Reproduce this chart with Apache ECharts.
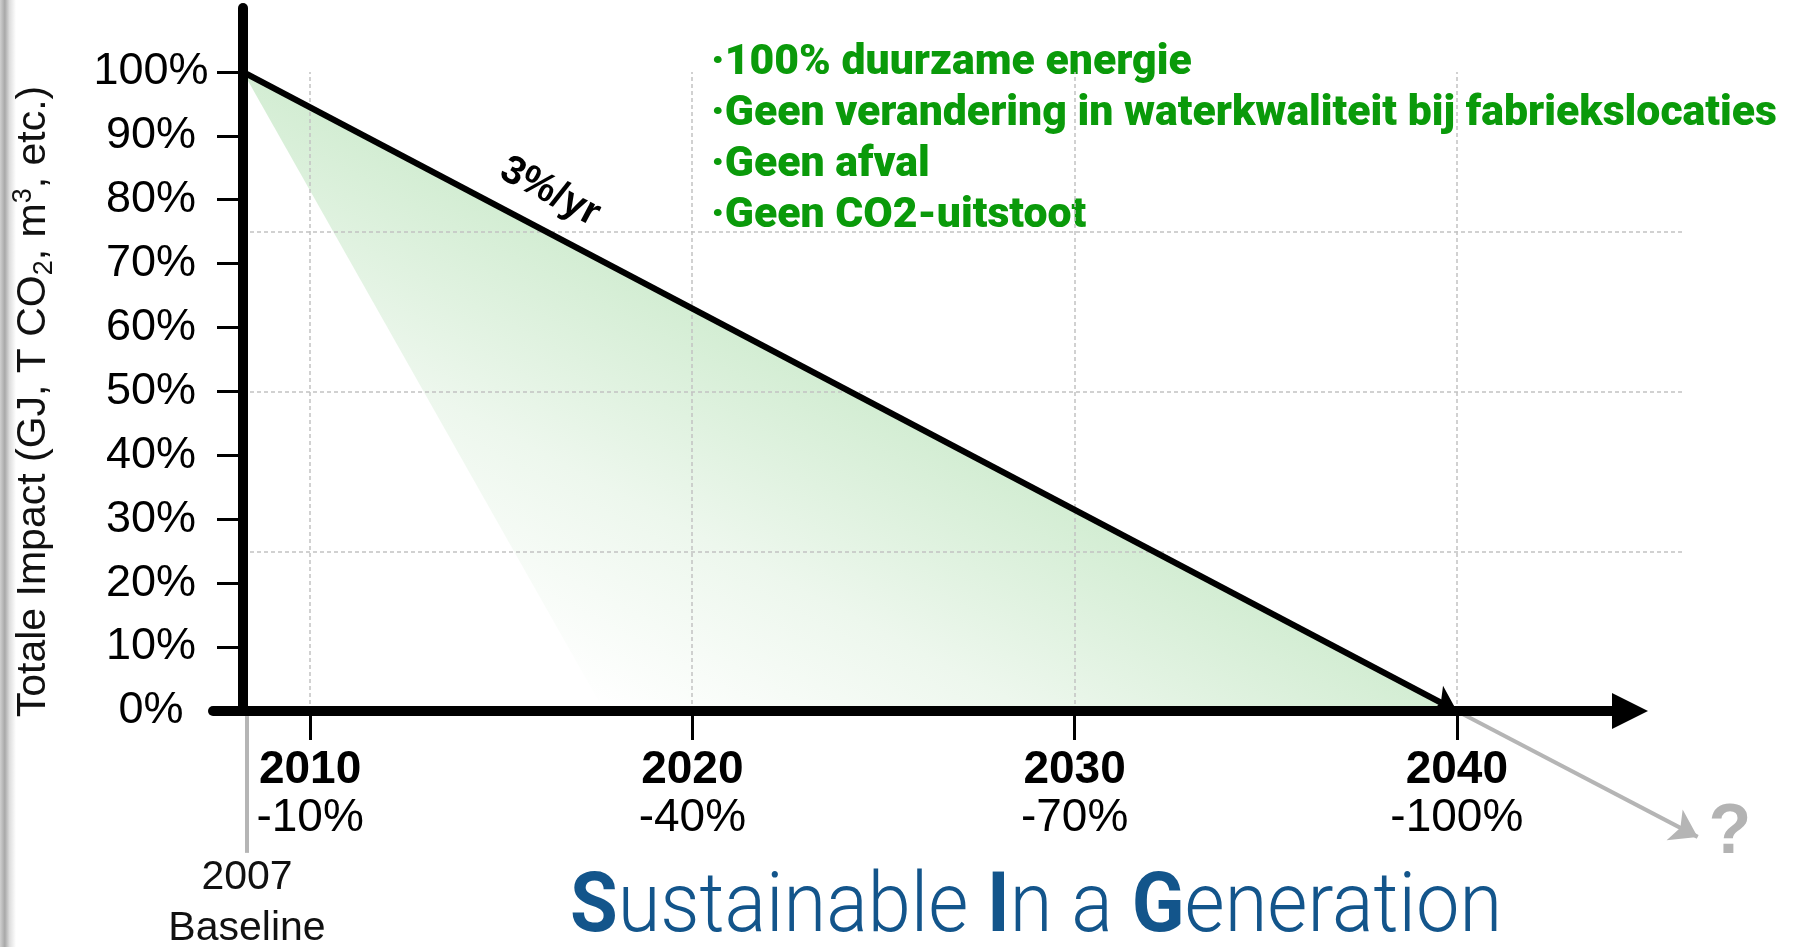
<!DOCTYPE html>
<html><head><meta charset="utf-8">
<script src="https://cdn.jsdelivr.net/npm/echarts@6/dist/echarts.min.js"></script>
<style>html,body{margin:0;padding:0;background:#fff}#c{width:1798px;height:947px}</style>
</head><body><div id="c"></div>
<script>
// ---------------- data ----------------
const yTickValues = [0, 10, 20, 30, 40, 50, 60, 70, 80, 90, 100];
const xTickYears = [2010, 2020, 2030, 2040];
const xTickReductions = ['-10%', '-40%', '-70%', '-100%'];
const gridYearLines = [2010, 2020, 2030, 2040];
const gridValueLines = [25, 50, 75];
const targetYears = [2008.25, 2040];
const targetValues = [100, 0];
const fillYears = [2008.25, 2040, 2017.7];
const fillValues = [100, 0, 0];
const beyondYears = [2040, 2046.3];
const beyondValues = [0, -19.7];
const baselineYears = [2008.35, 2008.35];
const baselineValues = [-0.8, -22.2];
const goals = ['\u00b7100% duurzame energie', '\u00b7Geen verandering in waterkwaliteit bij fabriekslocaties', '\u00b7Geen afval', '\u00b7Geen CO2-uitstoot'];
const rateLabel = '3%/yr';
const baselineLabel = ['2007', 'Baseline'];
const titleParts = [['b', 'S'], ['n', 'ustainable '], ['b', 'I'], ['n', 'n a '], ['b', 'G'], ['n', 'eneration']];
// axis extents
const plotYearMin = 2008.25, plotYearMax = 2045.89;
const axisYearMin = 2007.46, axisYearMax = 2044.53;
const axisValueMax = 110;

// ---------------- helpers ----------------
const ctx = document.createElement('canvas').getContext('2d');
function measure(font, text) { ctx.font = font; return ctx.measureText(text).width; }
const goalFont = '900 42px Roboto';
const goalScale = 1066 / measure(goalFont, goals[1]);
const titleFonts = { b: 'bold 84px Roboto', n: '300 84px Roboto' };
let titleW = 0; titleParts.forEach(p => { titleW += measure(titleFonts[p[0]], p[1]); });
const titleScale = 932 / titleW;

const chart = echarts.init(document.getElementById('c'));
const option = {
  animation: false,
  backgroundColor: '#fff',
  grid: [
    { left: 243, right: 116, top: 72, bottom: 236 },
    { left: 213, right: 168, top: 8, bottom: 236 }
  ],
  xAxis: [
    { gridIndex: 0, type: 'value', min: plotYearMin, max: plotYearMax, show: false },
    {
      gridIndex: 1, type: 'value', min: axisYearMin, max: axisYearMax, z: 20,
      axisLine: { show: true, onZero: false, symbol: ['none', 'triangle'], symbolSize: [36, 36], lineStyle: { color: '#000', width: 10 } },
      axisTick: { show: true, customValues: xTickYears, length: 29, lineStyle: { color: '#000', width: 3 } },
      axisLabel: {
        customValues: xTickYears, margin: 35,
        formatter: function (v) { const i = xTickYears.indexOf(v); return '{y|' + v + '}\n{p|' + xTickReductions[i] + '}'; },
        rich: {
          y: { fontSize: 46, fontWeight: 'bold', fontFamily: 'Liberation Sans', color: '#000', lineHeight: 48 },
          p: { fontSize: 46, fontFamily: 'Liberation Sans', color: '#000', lineHeight: 48 }
        }
      },
      splitLine: { show: false }
    }
  ],
  yAxis: [
    {
      gridIndex: 0, type: 'value', min: 0, max: 100,
      axisLine: { show: false }, axisTick: { show: false }, axisLabel: { show: false }, splitLine: { show: false },
      name: 'Totale Impact (GJ, T CO{sub|2}, m{sup|3}, etc.)',
      nameLocation: 'middle', nameGap: 185, nameRotate: 90,
      nameTextStyle: {
        fontSize: 41, fontFamily: 'Liberation Sans', color: '#111', lineHeight: 48, padding: [0, 20, 0, 0],
        rich: {
          sub: { fontSize: 27, fontFamily: 'Liberation Sans', color: '#111', lineHeight: 28, verticalAlign: 'bottom' },
          sup: { fontSize: 27, fontFamily: 'Liberation Sans', color: '#111', lineHeight: 28, verticalAlign: 'top' }
        }
      }
    },
    {
      gridIndex: 1, type: 'value', min: 0, max: axisValueMax, offset: -30, z: 20,
      axisLine: { show: true, onZero: false, lineStyle: { color: '#000', width: 10 } },
      axisTick: { show: true, customValues: yTickValues, length: 26, lineStyle: { color: '#000', width: 3 } },
      axisLabel: { customValues: yTickValues, formatter: '{value}%', align: 'center', margin: 92, fontSize: 45, fontFamily: 'Liberation Sans', color: '#000', padding: [0, 0, 10, 0] },
      splitLine: { show: false }
    }
  ],
  series: [
    {
      type: 'custom', xAxisIndex: 0, yAxisIndex: 0, z: 2, silent: true,
      data: [[fillYears[0], fillValues[0]]],
      renderItem: function (params, api) {
        const pts = fillYears.map((x, i) => api.coord([x, fillValues[i]]));
        const a = pts[0], b = pts[1], c = pts[2];
        const dx = b[0] - a[0], dy = b[1] - a[1];
        const t = ((c[0] - a[0]) * dx + (c[1] - a[1]) * dy) / (dx * dx + dy * dy);
        const s = [a[0] + t * dx, a[1] + t * dy];
        return {
          type: 'polygon', shape: { points: pts },
          style: {
            fill: { type: 'linear', x: s[0], y: s[1], x2: c[0], y2: c[1], global: true,
              colorStops: [{ offset: 0, color: '#d3edd3' }, { offset: 0.5, color: '#edf7ed' }, { offset: 1, color: '#ffffff' }] }
          }
        };
      },
      markLine: {
        silent: true, symbol: 'none', label: { show: false },
        lineStyle: { color: '#c2c2c2', type: [4, 3], width: 1.5 },
        data: gridYearLines.map(v => ({ xAxis: v })).concat(gridValueLines.map(v => ({ yAxis: v })))
      }
    },
    {
      type: 'lines', coordinateSystem: 'cartesian2d', xAxisIndex: 0, yAxisIndex: 0, z: 10, clip: false, silent: true,
      symbol: ['none', 'arrow'], symbolSize: 24,
      lineStyle: { color: '#000', width: 6, opacity: 1 },
      data: [{ coords: targetYears.map((x, i) => [x, targetValues[i]]) }]
    },
    {
      type: 'lines', coordinateSystem: 'cartesian2d', xAxisIndex: 0, yAxisIndex: 0, z: 10, clip: false, silent: true,
      symbol: ['none', 'arrow'], symbolSize: 26,
      lineStyle: { color: '#b5b5b5', width: 4, opacity: 1 },
      data: [{ coords: beyondYears.map((x, i) => [x, beyondValues[i]]) }]
    },
    {
      type: 'lines', coordinateSystem: 'cartesian2d', xAxisIndex: 0, yAxisIndex: 0, z: 10, clip: false, silent: true,
      symbol: ['none', 'none'],
      lineStyle: { color: '#b5b5b5', width: 4, opacity: 1 },
      data: [{ coords: baselineYears.map((x, i) => [x, baselineValues[i]]) }]
    }
  ],
  graphic: [
    { type: 'rect', x: 0, y: 0, silent: true, shape: { width: 16, height: 947 },
      style: { fill: { type: 'linear', x: 0, y: 0, x2: 1, y2: 0, colorStops: [{ offset: 0, color: '#d0d0d0' }, { offset: 0.3, color: '#a8a8a8' }, { offset: 0.6, color: '#dedede' }, { offset: 1, color: '#ffffff' }] } } },
    { type: 'text', x: 550, y: 192, rotation: -0.484, silent: true,
      style: { text: rateLabel, font: 'bold 40px "Liberation Sans"', fill: '#000', align: 'center', verticalAlign: 'middle' } },
    { type: 'text', x: 711, y: 38, scaleX: goalScale, silent: true,
      style: { text: goals.join('\n'), font: goalFont, lineHeight: 51, fill: '#0a9a0a', align: 'left', verticalAlign: 'top' } },
    { type: 'text', x: 247, y: 852, silent: true,
      style: { text: baselineLabel.join('\n'), font: '41px "Liberation Sans"', lineHeight: 51, fill: '#111', align: 'center', verticalAlign: 'top' } },
    { type: 'text', x: 1730, y: 834, silent: true,
      style: { text: '?', font: 'bold 70px "Liberation Sans"', fill: '#b3b3b3', align: 'center', verticalAlign: 'middle' } },
    { type: 'text', x: 1036, y: 910, scaleX: titleScale, silent: true,
      style: {
        text: titleParts.map(p => '{' + p[0] + '|' + p[1] + '}').join(''),
        align: 'center', verticalAlign: 'middle',
        rich: {
          b: { fontSize: 84, fontWeight: 'bold', fontFamily: 'Roboto', fill: '#13558b' },
          n: { fontSize: 84, fontWeight: 300, fontFamily: 'Roboto', fill: '#13558b' }
        }
      } }
  ]
};
chart.setOption(option);
</script></body></html>
